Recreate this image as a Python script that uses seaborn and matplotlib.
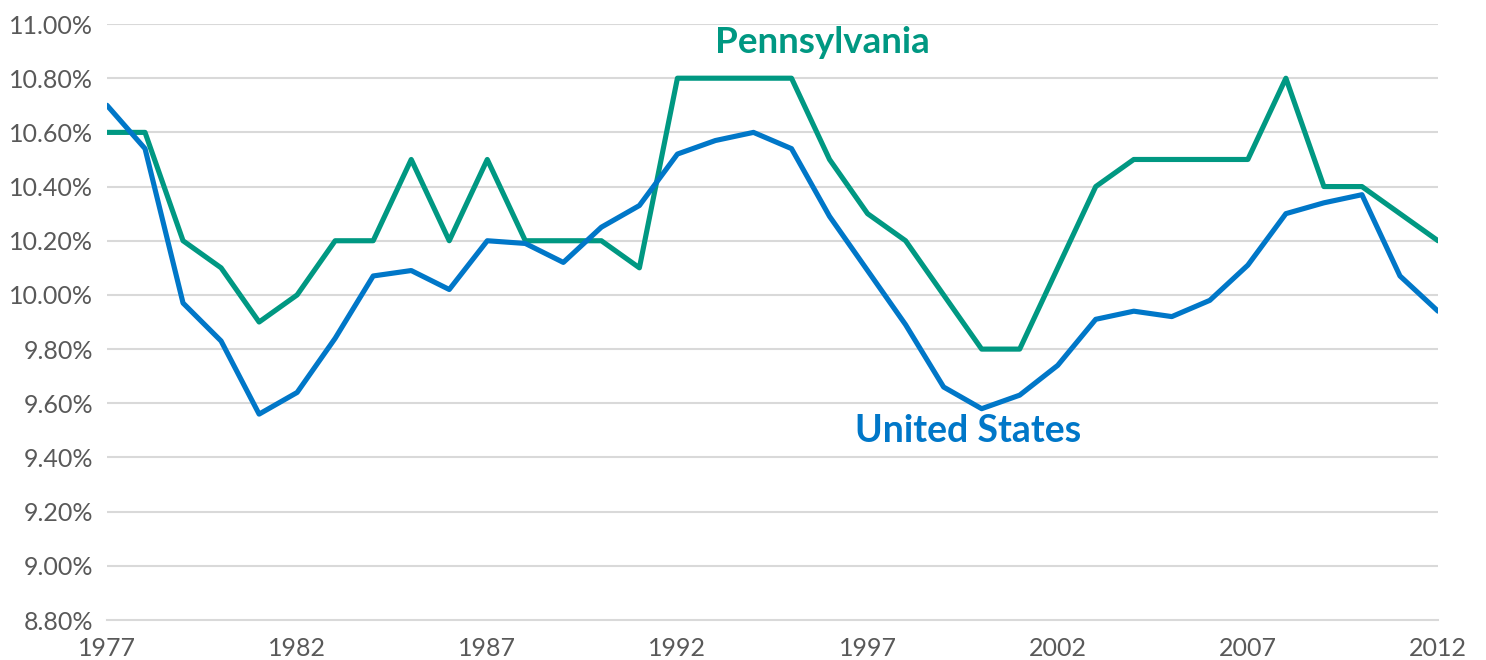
import matplotlib
matplotlib.use("Agg")
import matplotlib.pyplot as plt
import numpy as np
import pandas as pd
import seaborn as sns

# data
years = list(range(1977, 2013))
pennsylvania = [10.60, 10.60, 10.20, 10.10, 9.90, 10.00, 10.20, 10.20, 10.50, 10.20,
                10.50, 10.20, 10.20, 10.20, 10.10, 10.80, 10.80, 10.80, 10.80, 10.50,
                10.30, 10.20, 10.00, 9.80, 9.80, 10.10, 10.40, 10.50, 10.50, 10.50,
                10.50, 10.80, 10.40, 10.40, 10.30, 10.20]
united_states = [10.70, 10.54, 9.97, 9.83, 9.56, 9.64, 9.84, 10.07, 10.09, 10.02,
                 10.20, 10.19, 10.12, 10.25, 10.33, 10.52, 10.57, 10.60, 10.54, 10.29,
                 10.09, 9.89, 9.66, 9.58, 9.63, 9.74, 9.91, 9.94, 9.92, 9.98,
                 10.11, 10.30, 10.34, 10.37, 10.07, 9.94]
series_names = ["Pennsylvania", "United States"]
series_colors = {"Pennsylvania": "#009882", "United States": "#0077c8"}
y_ticks = [8.8, 9.0, 9.2, 9.4, 9.6, 9.8, 10.0, 10.2, 10.4, 10.6, 10.8, 11.0]
x_ticks = [1977, 1982, 1987, 1992, 1997, 2002, 2007, 2012]

df = pd.DataFrame({"Year": years * 2,
                   "Rate": pennsylvania + united_states,
                   "Series": [series_names[0]] * len(years) + [series_names[1]] * len(years)})

sns.set_style("white")
plt.rcParams["font.family"] = ["Lato", "DejaVu Sans"]

fig = plt.figure(figsize=(14.86, 6.60), dpi=100)
ax = fig.add_axes([0.072, 0.0606, 0.8957, 0.903])

# grid first so lines sit on top
for t in y_ticks[1:]:
    ax.axhline(t, color="#d9d9d9", linewidth=1.5, zorder=0)

sns.lineplot(data=df, x="Year", y="Rate", hue="Series", palette=series_colors,
             linewidth=3.7, legend=False, ax=ax, zorder=3)

ax.set_xlim(1977, 2012)
ax.set_ylim(8.8, 11.0)
ax.set_yticks(y_ticks)
ax.set_yticklabels([f"{v:.2f}%" for v in y_ticks])
ax.set_xticks(x_ticks)
ax.set_xticklabels([str(v) for v in x_ticks])
ax.set_xlabel("")
ax.set_ylabel("")

for side in ["left", "right", "top"]:
    ax.spines[side].set_visible(False)
ax.spines["bottom"].set_color("#d9d9d9")
ax.spines["bottom"].set_linewidth(1.5)

ax.tick_params(axis="y", length=0, pad=10, labelsize=18, labelcolor="#595959")
ax.tick_params(axis="x", length=6, width=1.2, direction="inout", color="#d9d9d9",
               pad=9, labelsize=18, labelcolor="#595959")

ax.text(1995.8, 10.893, "Pennsylvania", color=series_colors["Pennsylvania"],
        fontsize=26.5, fontweight="bold", ha="center", va="baseline")
ax.text(1999.64, 9.458, "United States", color=series_colors["United States"],
        fontsize=27, fontweight="bold", ha="center", va="baseline")

fig.savefig("out.png", dpi=100)
